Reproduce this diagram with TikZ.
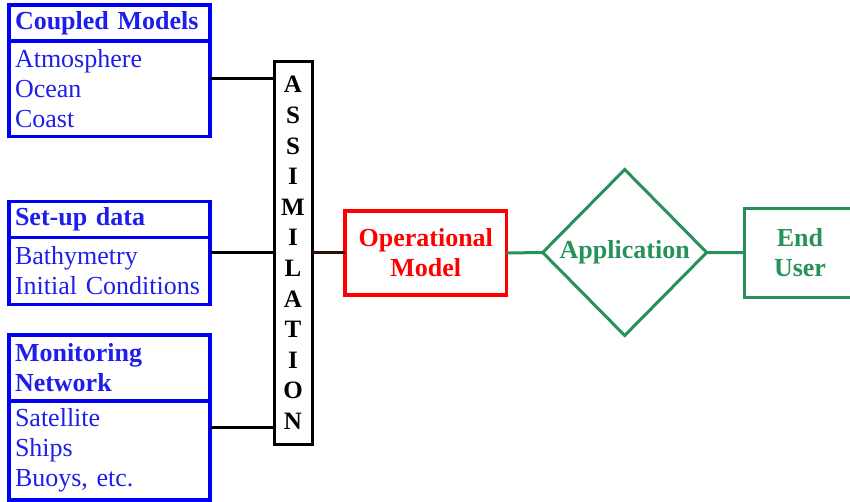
\documentclass[tikz,border=0pt]{standalone}
\usepackage{fontspec}
\setmainfont{Liberation Serif}
\usetikzlibrary{shapes.geometric}
\definecolor{boxblue}{RGB}{0,0,245}
\definecolor{txtblue}{RGB}{30,30,235}
\definecolor{opred}{RGB}{255,0,0}
\definecolor{appgreen}{RGB}{38,146,90}
\definecolor{linkdark}{RGB}{45,15,10}
\begin{document}
\begin{tikzpicture}[x=1pt,y=-1pt,
  bigfont/.style={font=\fontsize{26}{30}\selectfont},
  bigbold/.style={font=\bfseries\fontsize{26}{30}\selectfont},
  srchead/.style={draw=boxblue, line width=3.2pt, text=txtblue, bigbold,
    minimum width=201pt, text width=189pt, inner xsep=6pt, inner ysep=0pt,
    outer sep=0pt, align=left, anchor=north west},
  srcbody/.style={srchead, bigfont},
  assimbox/.style={draw=black, line width=3pt, outer sep=0pt, inner sep=0pt,
    minimum width=38pt, minimum height=382pt, align=center,
    font=\bfseries\fontsize{25}{30.6}\selectfont},
  opbox/.style={draw=opred, line width=3.2pt, text=opred, bigbold, outer sep=0pt,
    minimum width=161.5pt, minimum height=84pt, align=center},
  appdiamond/.style={diamond, aspect=1, draw=appgreen, line width=3pt, text=appgreen,
    bigbold, inner sep=0pt, outer sep=0pt, minimum width=164pt, minimum height=166pt},
  userbox/.style={draw=appgreen, line width=3pt, text=appgreen, bigbold, outer sep=0pt,
    minimum width=112pt, minimum height=89pt, align=center},
  link/.style={draw=black, line width=3pt},
  glink/.style={draw=appgreen, line width=3pt}]

\useasboundingbox (0,0) rectangle (850,502);

% source boxes
\node[srchead, minimum height=36pt] (cmhead) at (9,5) {Coupled Models};
\node[srcbody, minimum height=95.5pt] (cmbody) at (cmhead.south west) {Atmosphere\\Ocean\\Coast};

\node[srchead, minimum height=36pt] (sdhead) at (9,201.5) {Set-up data};
\node[srcbody, minimum height=67pt] (sdbody) at (sdhead.south west) {Bathymetry\\Initial Conditions};

\node[srchead, minimum height=66pt] (mnhead) at (9,335) {Monitoring\\Network};
\node[srcbody, minimum height=99pt] (mnbody) at (mnhead.south west) {Satellite\\Ships\\Buoys, etc.};

% assimilation column
\node[assimbox] (assim) at (293,253) {A\\S\\S\\I\\M\\I\\L\\A\\T\\I\\O\\N};
\coordinate (a1) at ([yshift=174pt]assim.west);
\coordinate (a3) at ([yshift=-174pt]assim.west);

% processing chain
\node[opbox] (op) at (425.75,253) {Operational\\Model};
\node[appdiamond] (app) at (624.7,252.5) {Application};
\node[userbox] (user) at (800,252.7) {End\\User};

% connectors
\draw[link] (cmbody.east |- a1) -- (a1);
\draw[link] (sdbody.east |- assim.west) -- (assim.west);
\draw[link] (mnbody.east |- a3) -- (a3);
\draw[link, draw=linkdark] (assim.east |- op.west) -- (op.west);
\draw[glink] (op.east) -- (app.west);
\draw[glink] (app.east) -- (user.west);
\end{tikzpicture}
\end{document}
